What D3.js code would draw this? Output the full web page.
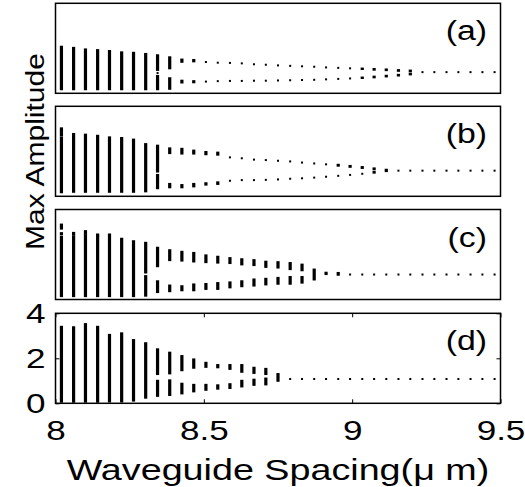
<!DOCTYPE html>
<html>
<head>
<meta charset="utf-8">
<script src="https://cdn.jsdelivr.net/npm/d3@7"></script>
<style>
  html, body { margin: 0; padding: 0; background: #fff; }
  svg { display: block; }
  text { font-family: "Liberation Sans", Arial, Helvetica, sans-serif; fill: #000; }
</style>
</head>
<body>
<svg id="chart" width="525" height="487"></svg>
<script>
// Waveguide spacing (µm) of each sampled column
const spacing = [8.020, 8.061, 8.101, 8.142, 8.182, 8.223, 8.263, 8.304, 8.344, 8.385,
  8.426, 8.466, 8.507, 8.547, 8.588, 8.628, 8.669, 8.709, 8.750, 8.791,
  8.831, 8.872, 8.912, 8.953, 8.993, 9.034, 9.074, 9.115, 9.156, 9.196,
  9.237, 9.277, 9.318, 9.358, 9.399, 9.439, 9.480];

// Each column: flat list of [low, high] amplitude ranges (low == high is a single point)
const panelA = [
  [0.18,2.07],[0.18,2.02],[0.18,1.95],[0.18,1.92],[0.18,1.88],[0.18,1.82],[0.18,1.80],[0.18,1.75],
  [0.18,0.77,0.90,0.90,1.04,1.69],[0.20,0.67,1.11,1.60],
  [0.48,0.56,1.40,1.50],[0.49,0.54,1.42,1.48],[0.52,0.52,1.39,1.39],[0.54,0.54,1.36,1.36],
  [0.55,0.55,1.35,1.35],[0.55,0.55,1.33,1.33],[0.56,0.56,1.29,1.29],[0.56,0.56,1.27,1.27],
  [0.57,0.57,1.24,1.24],[0.58,0.58,1.22,1.22],[0.59,0.59,1.20,1.20],[0.60,0.60,1.18,1.18],
  [0.62,0.62,1.15,1.15],[0.64,0.64,1.13,1.13],[0.66,0.66,1.11,1.11],[0.68,0.70,1.08,1.10],
  [0.71,0.74,1.05,1.08],[0.75,0.78,1.03,1.06],[0.79,0.82,1.00,1.03],[0.84,0.87,0.98,1.01],
  [0.94,0.94],[0.94,0.94],[0.94,0.94],[0.94,0.94],[0.94,0.94],[0.94,0.94],[0.94,0.94]
];
const panelB = [
  [0.18,2.62,2.72,2.78,2.86,3.02],[0.20,2.77],[0.20,2.74],[0.20,2.69],[0.20,2.62],[0.20,2.59],[0.20,2.52],[0.22,2.32],
  [0.36,0.95,1.10,2.25],[0.40,0.55,1.92,2.13],
  [0.40,0.50,1.90,2.11],[0.44,0.55,1.90,2.03],[0.52,0.58,1.87,1.97],[0.55,0.62,1.85,1.94],
  [0.69,0.69,1.73,1.73],[0.72,0.72,1.69,1.69],[0.72,0.72,1.63,1.63],[0.73,0.73,1.61,1.61],
  [0.75,0.75,1.58,1.58],[0.78,0.78,1.55,1.55],[0.80,0.80,1.50,1.50],[0.83,0.83,1.46,1.46],
  [0.87,0.87,1.42,1.42],[0.91,0.91,1.36,1.40],[0.95,0.95,1.31,1.35],[1.00,1.00,1.26,1.30],
  [1.05,1.08,1.20,1.24],[1.12,1.18],
  [1.14,1.14],[1.14,1.14],[1.14,1.14],[1.14,1.14],[1.14,1.14],[1.14,1.14],[1.14,1.14],[1.14,1.14],[1.14,1.14]
];
const panelC = [
  [0.15,2.79,2.90,2.95,3.15,3.33],[0.15,2.80,2.88,2.96],[0.15,2.85,2.92,3.04],[0.15,2.80,2.85,2.89],
  [0.15,2.89],[0.15,2.70],[0.15,2.59],[0.17,1.04,1.20,1.22,1.30,2.52],
  [0.33,0.81,1.48,2.30],[0.37,0.62,1.75,2.19],[0.41,0.59,1.73,2.12],[0.41,0.67,1.69,2.07],
  [0.47,0.69,1.66,1.96],[0.47,0.73,1.64,1.90],[0.54,0.76,1.62,1.84],[0.59,0.81,1.56,1.79],
  [0.62,0.89,1.53,1.75],[0.67,0.92,1.45,1.68],[0.70,0.96,1.42,1.66],[0.70,1.00,1.35,1.62],
  [0.75,1.00,1.30,1.55],[0.89,1.33],[1.13,1.19],[1.10,1.18],
  [1.11,1.11],[1.11,1.11],[1.11,1.11],[1.11,1.11],[1.11,1.11],[1.11,1.11],[1.11,1.11],
  [1.11,1.11],[1.11,1.11],[1.11,1.11],[1.11,1.11],[1.11,1.11],[1.11,1.11]
];
const panelD = [
  [0.07,3.40],[0.07,3.38],[0.07,3.52],[0.07,3.40],[0.08,3.04],[0.08,3.11],[0.12,2.81],[0.25,2.67],
  [0.33,1.00,1.30,2.40],[0.37,1.02,1.33,2.25],[0.44,0.87,1.47,2.10],[0.53,0.82,1.58,1.95],
  [0.60,0.82,1.62,1.80],[0.65,0.80,1.60,1.70],[0.68,0.85,1.53,1.70],[0.75,1.00,1.40,1.70],
  [0.82,1.05,1.35,1.58],[0.84,1.10,1.30,1.53],[1.00,1.30],
  [1.08,1.08],[1.08,1.08],[1.08,1.08],[1.08,1.08],[1.08,1.08],[1.08,1.08],[1.08,1.08],[1.08,1.08],[1.08,1.08],
  [1.08,1.08],[1.08,1.08],[1.08,1.08],[1.08,1.08],[1.08,1.08],[1.08,1.08],[1.08,1.08],[1.08,1.08],[1.08,1.08]
];

const panelLabels = ["(a)", "(b)", "(c)", "(d)"];
const xTicks = [8, 8.5, 9, 9.5];
const yTicks = [0, 2, 4];
const xDomain = [8, 9.5];
const yDomain = [0, 4];
const xTitle = "Waveguide Spacing(\u03bc m)";
const yTitle = "Max Amplitude";

const panels = [panelA, panelB, panelC, panelD];

const svg = d3.select("#chart");
const left = 55.5, right = 500.5;
const panelTops = [3.3, 106.3, 209.5, 313.3];
const panelH = 90;
const tickFont = 28;
const WIDEN = 1.25;   // the reference's Helvetica renders wider than Liberation Sans

function widen(sel, f) {
  sel.each(function () {
    const L = this.getComputedTextLength();
    this.setAttribute("textLength", (L * f).toFixed(1));
    this.setAttribute("lengthAdjust", "spacingAndGlyphs");
  });
}

const x = d3.scaleLinear().domain(xDomain).range([left, right]);

panels.forEach((data, i) => {
  const top = panelTops[i];
  const y = d3.scaleLinear().domain(yDomain).range([top + panelH, top]);
  const g = svg.append("g");

  const segs = [];
  data.forEach((col, j) => {
    for (let k = 0; k < col.length; k += 2) segs.push({x: spacing[j], lo: col[k], hi: col[k + 1]});
  });
  g.selectAll("rect.m").data(segs).enter().append("rect")
    .attr("class", "m")
    .attr("x", d => x(d.x) - (d.hi > d.lo ? 1.6 : 1))
    .attr("width", d => d.hi > d.lo ? 3.2 : 2)
    .attr("y", d => y(d.hi) - 1)
    .attr("height", d => y(d.lo) - y(d.hi) + 2)
    .attr("fill", "#000");

  if (i === 3) {
    const xb = d3.axisBottom(x).tickValues(xTicks).tickFormat(d => String(d))
      .tickSizeInner(-4).tickSizeOuter(0).tickPadding(17);
    const ga = g.append("g").attr("transform", `translate(0,${top + panelH})`).call(xb);
    ga.select(".domain").remove();
    ga.selectAll("text").attr("font-size", tickFont).attr("font-family", "Liberation Sans, Arial, sans-serif")
      .call(widen, WIDEN);
    const xt = d3.axisTop(x).tickValues(xTicks).tickFormat("").tickSizeInner(-4).tickSizeOuter(0);
    const gt = g.append("g").attr("transform", `translate(0,${top})`).call(xt);
    gt.select(".domain").remove();

    const yl = d3.axisLeft(y).tickValues(yTicks).tickFormat(d => String(d))
      .tickSizeInner(-4).tickSizeOuter(0).tickPadding(10);
    const gl = g.append("g").attr("transform", `translate(${left},0)`).call(yl);
    gl.select(".domain").remove();
    gl.selectAll("text").attr("font-size", tickFont).attr("font-family", "Liberation Sans, Arial, sans-serif")
      .call(widen, WIDEN);
    const yr = d3.axisRight(y).tickValues(yTicks).tickFormat("").tickSizeInner(-4).tickSizeOuter(0);
    const gr = g.append("g").attr("transform", `translate(${right},0)`).call(yr);
    gr.select(".domain").remove();
    g.selectAll(".tick line").attr("stroke", "#000").attr("stroke-width", 1);
  }

  g.append("rect").attr("x", left).attr("y", top).attr("width", right - left).attr("height", panelH)
    .attr("fill", "none").attr("stroke", "#000").attr("stroke-width", 1.5);

  g.append("text").attr("x", 487).attr("y", top + 37).attr("text-anchor", "end")
    .attr("font-size", 27).text(panelLabels[i]).call(widen, WIDEN);
});

svg.append("text").attr("x", (left + right) / 2).attr("y", 480).attr("text-anchor", "middle")
  .attr("font-size", 29).text(xTitle).call(widen, 1.3);
svg.append("text").attr("transform", `translate(44,151.5) rotate(-90)`)
  .attr("text-anchor", "middle").attr("font-size", 25).text(yTitle).call(widen, 1.2);
</script>
</body>
</html>
